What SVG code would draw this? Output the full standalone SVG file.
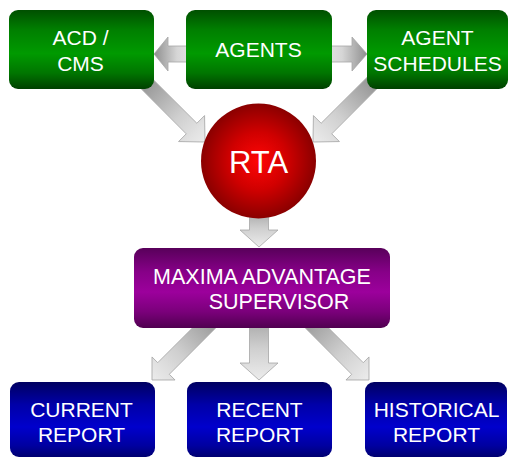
<svg xmlns="http://www.w3.org/2000/svg" width="508" height="458" viewBox="0 0 508 458">
<defs>
<linearGradient id="gGreen" x1="0" y1="0" x2="0" y2="1">
<stop offset="0" stop-color="#004f00"/>
<stop offset="0.25" stop-color="#007f00"/>
<stop offset="0.55" stop-color="#009a00"/>
<stop offset="0.8" stop-color="#007500"/>
<stop offset="1" stop-color="#004000"/>
</linearGradient>
<linearGradient id="gPurple" x1="0" y1="0" x2="0" y2="1">
<stop offset="0" stop-color="#58005a"/>
<stop offset="0.3" stop-color="#870088"/>
<stop offset="0.55" stop-color="#9c009c"/>
<stop offset="0.8" stop-color="#7a007a"/>
<stop offset="1" stop-color="#500050"/>
</linearGradient>
<linearGradient id="gBlue" x1="0" y1="0" x2="0" y2="1">
<stop offset="0" stop-color="#000060"/>
<stop offset="0.3" stop-color="#0000a8"/>
<stop offset="0.6" stop-color="#0000cc"/>
<stop offset="0.85" stop-color="#0000a0"/>
<stop offset="1" stop-color="#000070"/>
</linearGradient>
<radialGradient id="gRed" cx="0.5" cy="0.5" r="0.5">
<stop offset="0" stop-color="#ff0606"/>
<stop offset="0.5" stop-color="#d00000"/>
<stop offset="1" stop-color="#8a0000"/>
</radialGradient>
<linearGradient id="gArrA" x1="0" y1="0" x2="1" y2="0">
<stop offset="0" stop-color="#8c8c8c"/>
<stop offset="0.6" stop-color="#cfcfcf"/>
<stop offset="1" stop-color="#ececec"/>
</linearGradient>
<linearGradient id="gArrB" x1="0" y1="0" x2="1" y2="0">
<stop offset="0" stop-color="#ececec"/>
<stop offset="0.5" stop-color="#d6d6d6"/>
<stop offset="1" stop-color="#8e8e8e"/>
</linearGradient>
</defs>
<style>
.arrA{fill:url(#gArrA);stroke:#a6a6a6;stroke-width:0.8}
.arrB{fill:url(#gArrB);stroke:#a6a6a6;stroke-width:0.8}
.green{fill:url(#gGreen)}
.purple{fill:url(#gPurple)}
.blue{fill:url(#gBlue)}
.lbl{font-family:"Liberation Sans",Arial,sans-serif;font-size:21px;fill:#ffffff;text-anchor:middle}
</style>
<g id="connectors">
<path class="arrB" transform="translate(154,54) rotate(180)" d="M0,0 L-14,-17 L-14,-8 L-46,-8 L-46,8 L-14,8 L-14,17 Z"/>
<path class="arrB" transform="translate(367,54)" d="M0,0 L-15,-17 L-15,-8 L-50,-8 L-50,8 L-15,8 L-15,17 Z"/>
<path class="arrA" transform="translate(205,142) rotate(45)" d="M0,0 L-19,-18.4 L-19,-7.5 L-92,-7.5 L-92,7.5 L-19,7.5 L-19,18.4 Z"/>
<path class="arrA" transform="translate(313,142) rotate(135)" d="M0,0 L-19,18.4 L-19,7.5 L-92,7.5 L-92,-7.5 L-19,-7.5 L-19,-18.4 Z"/>
<path class="arrA" transform="translate(259,247) rotate(90)" d="M0,0 L-17,-19 L-17,-9.5 L-47,-9.5 L-47,9.5 L-17,9.5 L-17,19 Z"/>
<path class="arrA" transform="translate(152,380) rotate(135)" d="M0,0 L-16.3,16.3 L-16.3,8.2 L-96,8.2 L-96,-8.2 L-16.3,-8.2 L-16.3,-16.3 Z"/>
<path class="arrA" transform="translate(259,380) rotate(90)" d="M0,0 L-17,-19 L-17,-9.5 L-80,-9.5 L-80,9.5 L-17,9.5 L-17,19 Z"/>
<path class="arrA" transform="translate(369,380) rotate(45)" d="M0,0 L-16.3,-16.3 L-16.3,-8.2 L-97,-8.2 L-97,8.2 L-16.3,8.2 L-16.3,16.3 Z"/>
</g>
<g id="acd">
<rect class="green" x="9" y="10" width="145" height="79" rx="9"/>
<text class="lbl" x="80.5" y="45">ACD /</text>
<text class="lbl" x="80.5" y="71">CMS</text>
</g>
<g id="agents">
<rect class="green" x="186" y="10" width="146" height="79" rx="9"/>
<text class="lbl" x="258.5" y="57">AGENTS</text>
</g>
<g id="schedules">
<rect class="green" x="367" y="10" width="141" height="79" rx="9"/>
<text class="lbl" x="437.5" y="45">AGENT</text>
<text class="lbl" x="437.5" y="71">SCHEDULES</text>
</g>
<g id="rta">
<circle cx="258.5" cy="161" r="57.5" fill="url(#gRed)"/>
<text class="lbl" x="258.5" y="173" style="font-size:31px">RTA</text>
</g>
<g id="maxima">
<rect class="purple" x="134" y="248" width="256" height="80" rx="9"/>
<text class="lbl" x="262" y="284" style="font-size:21.5px">MAXIMA ADVANTAGE</text>
<text class="lbl" x="279" y="309" style="font-size:21.5px">SUPERVISOR</text>
</g>
<g id="current">
<rect class="blue" x="10" y="382" width="145" height="75" rx="9"/>
<text class="lbl" x="81.5" y="417">CURRENT</text>
<text class="lbl" x="81.5" y="442">REPORT</text>
</g>
<g id="recent">
<rect class="blue" x="187" y="382" width="145" height="75" rx="9"/>
<text class="lbl" x="259.5" y="417">RECENT</text>
<text class="lbl" x="259.5" y="442">REPORT</text>
</g>
<g id="historical">
<rect class="blue" x="365" y="382" width="142" height="75" rx="9"/>
<text class="lbl" x="436.5" y="417">HISTORICAL</text>
<text class="lbl" x="436.5" y="442">REPORT</text>
</g>
</svg>
